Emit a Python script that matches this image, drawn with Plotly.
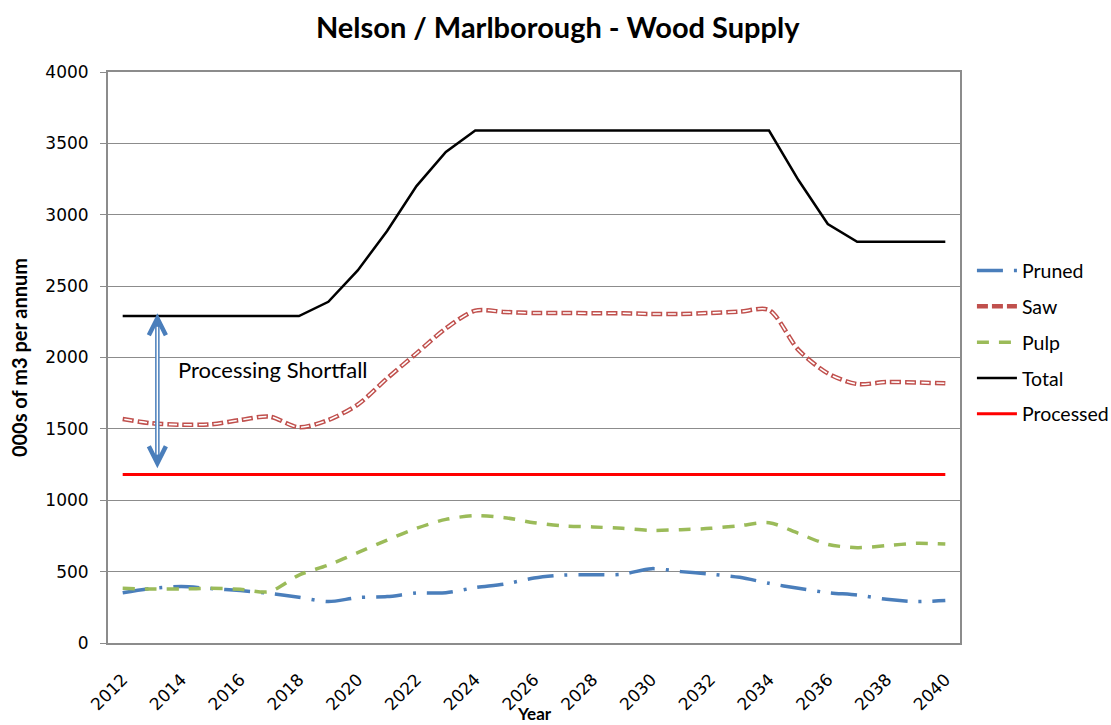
import plotly.graph_objects as go

years = list(range(2012, 2041))

pruned = [352, 383, 395, 381, 367, 348, 320, 290, 318, 325, 350, 352, 388, 413,
          455, 476, 478, 481, 521, 500, 483, 460, 418, 383, 353, 336, 306, 290, 297]
saw = [1569, 1539, 1529, 1532, 1562, 1586, 1511, 1562, 1670, 1854, 2029, 2204, 2328, 2319,
       2312, 2312, 2310, 2310, 2305, 2305, 2312, 2321, 2333, 2053, 1889, 1814, 1828, 1825, 1819]
pulp = [383, 378, 378, 383, 376, 360, 476, 546, 633, 721, 803, 866, 892, 878,
        843, 820, 813, 803, 789, 794, 803, 822, 843, 768, 691, 668, 682, 698, 693]
total = [2290, 2290, 2290, 2290, 2290, 2290, 2290, 2390, 2610, 2886, 3201, 3440, 3590, 3590,
         3590, 3590, 3590, 3590, 3590, 3590, 3590, 3590, 3590, 3243, 2935, 2810, 2810, 2810, 2810]
processed = [1180] * len(years)

BLUE = "#4a7ebb"
RED_SAW = "#c0504d"
GREEN = "#9bbb59"
GRID = "#8c8c8c"
BODY_FONT = "Lato"

fig = go.Figure()

fig.add_trace(go.Scatter(
    x=years, y=pruned, name="Pruned", mode="lines", legendgroup="a",
    line=dict(color=BLUE, width=3.5, dash="26px,11px,3px,11px", shape="spline", smoothing=0.8),
))
# Saw is drawn as an outlined dash: a wide red dash with a white core.
fig.add_trace(go.Scatter(
    x=years, y=saw, name="Saw", mode="lines", legendgroup="b",
    line=dict(color=RED_SAW, width=4.5, dash="11px,4px", shape="spline", smoothing=0.8),
))
fig.add_trace(go.Scatter(
    x=years, y=saw, name="Saw", mode="lines", legendgroup="b", showlegend=False,
    hoverinfo="skip",
    line=dict(color="white", width=1.6, dash="0px,1.5px,8px,5.5px", shape="spline", smoothing=0.8),
))
fig.add_trace(go.Scatter(
    x=years, y=pulp, name="Pulp", mode="lines", legendgroup="c",
    line=dict(color=GREEN, width=3.5, dash="12px,10px", shape="spline", smoothing=0.8),
))
fig.add_trace(go.Scatter(
    x=years, y=total, name="Total", mode="lines", legendgroup="d",
    line=dict(color="black", width=2.5),
))
fig.add_trace(go.Scatter(
    x=years, y=processed, name="Processed", mode="lines", legendgroup="e",
    line=dict(color="#ff0000", width=3),
))

# Double-headed arrow marking the gap between supply and processing
arrow_x = 2013.18
arrow_top = total[0] - 15
arrow_bottom = processed[0] + 80
head_dx = 0.29
head_dy = 119
shapes = [
    dict(type="line", xref="x", yref="y", x0=arrow_x, x1=arrow_x, y0=arrow_bottom + 20,
         y1=arrow_top - 20, line=dict(color=BLUE, width=4.5)),
    dict(type="line", xref="x", yref="y", x0=arrow_x, x1=arrow_x, y0=arrow_bottom + 60,
         y1=arrow_top - 60, line=dict(color="white", width=1.5)),
    dict(type="path", xref="x", yref="y",
         path=f"M {arrow_x - head_dx},{arrow_top - head_dy} L {arrow_x},{arrow_top} "
              f"L {arrow_x + head_dx},{arrow_top - head_dy}",
         line=dict(color=BLUE, width=4.5)),
    dict(type="path", xref="x", yref="y",
         path=f"M {arrow_x - head_dx},{arrow_bottom + head_dy} L {arrow_x},{arrow_bottom} "
              f"L {arrow_x + head_dx},{arrow_bottom + head_dy}",
         line=dict(color=BLUE, width=4.5)),
]

# Category boundaries between the years carry the tick marks
boundaries = [y - 0.5 for y in years] + [years[-1] + 0.5]

fig.update_layout(
    width=1111, height=725,
    margin=dict(l=108, r=151, t=72, b=82, autoexpand=False),
    paper_bgcolor="white", plot_bgcolor="white",
    font=dict(family=BODY_FONT, color="black", size=17),
    title=dict(text="<b>Nelson / Marlborough - Wood Supply</b>", x=0.502, xanchor="center",
               y=0.962, yanchor="middle", font=dict(size=29, family=BODY_FONT)),
    shapes=shapes,
    annotations=[
        dict(x=2013.81, y=1919, xref="x", yref="y", text="Processing Shortfall",
             showarrow=False, xanchor="left", yanchor="middle",
             font=dict(size=22, family=BODY_FONT)),
        dict(x=0.5, y=-0.124, xref="paper", yref="paper", yanchor="middle", xanchor="center",
             text="<b>Year</b>", showarrow=False, font=dict(size=17, family=BODY_FONT)),
    ],
    legend=dict(x=1.014, y=0.686, xanchor="left", yanchor="top", tracegroupgap=7.5,
                font=dict(size=19.5, family=BODY_FONT), bgcolor="rgba(0,0,0,0)",
                itemwidth=40),
    showlegend=True,
    xaxis2=dict(overlaying="x", anchor="y", side="bottom", range=[2011.5, 2040.5],
                tickmode="array", tickvals=boundaries, ticks="outside", ticklen=6,
                tickcolor=GRID, tickwidth=1, showticklabels=False, showgrid=False,
                showline=False, zeroline=False, automargin=False),
)

fig.layout.xaxis.update(
    range=[2011.5, 2040.5], tickmode="array", tickvals=years[::2],
    ticktext=[str(y) for y in years[::2]], tickangle=-45,
    ticks="outside", ticklen=18, tickcolor="rgba(0,0,0,0)", automargin=False,
    tickfont=dict(family="DejaVu Sans", size=17),
    showgrid=False, showline=True, linecolor=GRID, linewidth=2, mirror=True,
    zeroline=False,
)
fig.update_yaxes(
    range=[0, 4000], dtick=500, tickfont=dict(family="DejaVu Sans", size=17),
    ticklabelstandoff=8, automargin=False,
    showgrid=True, gridcolor=GRID, gridwidth=1,
    showline=True, linecolor=GRID, linewidth=2, mirror=True, zeroline=False,
    ticks="outside", ticklen=6, tickcolor=GRID,
    title=dict(text="<b>000s of m3 per annum</b>", font=dict(size=20, family=BODY_FONT),
               standoff=12),
)

fig.write_html("out.html")
